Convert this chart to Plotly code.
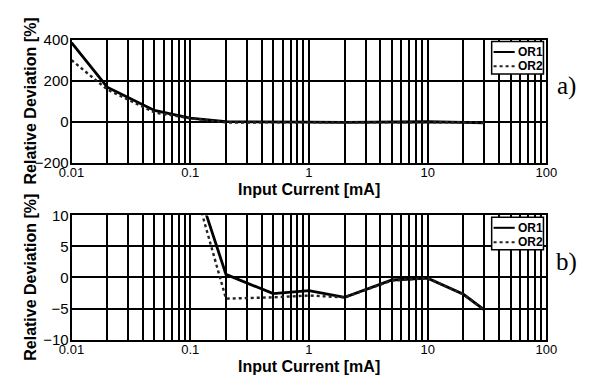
import plotly.graph_objects as go

# Measured input current sweep [mA] and relative deviation [%] of both outputs
current_ma = [0.01, 0.02, 0.05, 0.1, 0.2, 0.5, 1, 2, 5, 10, 20, 30]
or1_dev = [385, 168, 55, 18, 0.5, -2.6, -2.1, -3.2, -0.4, -0.1, -2.7, -5.2]
or2_dev = [300, 157, 45, 17, -3.4, -3.2, -2.9, -3.2, -0.5, -0.1, -2.7, -5.2]

series_names = ["OR1", "OR2"]
panel_tags = ["a)", "b)"]
y_ranges = [(-200, 400), (-10, 10)]
y_steps = [200, 5]
x_title = "Input Current [mA]"
y_title = "Relative Deviation [%]"

W, H = 589, 382
FONT = "Arial"

# panel geometry in pixels (left, right, top, bottom)
panels = [(61, 556, 32, 161), (61, 556, 216, 346)]


def px(x):
    return x / W


def py(y):
    return 1 - y / H


# log-axis grid: every 1..9 multiple of each decade, labels on decades only
grid_vals, grid_text = [], []
for dec in [0.01, 0.1, 1, 10]:
    for m in range(1, 10):
        grid_vals.append(round(dec * m, 6))
        grid_text.append(f"{dec:g}" if m == 1 else "")
grid_vals.append(100)
grid_text.append("100")

fig = go.Figure()
styles = [dict(color="black", width=2.8), dict(color="#222222", width=2.4, dash="dot")]

for i, (l, r, t, b) in enumerate(panels):
    xa = "x" if i == 0 else "x2"
    ya = "y" if i == 0 else "y2"
    for name, vals, st in zip(series_names, [or1_dev, or2_dev], styles):
        fig.add_trace(go.Scatter(x=current_ma, y=vals, mode="lines", name=name,
                                 line=st, xaxis=xa, yaxis=ya, showlegend=False,
                                 cliponaxis=True))
    axis_common = dict(showline=True, linecolor="black", linewidth=1.8, mirror=True,
                       showgrid=True, gridcolor="black", gridwidth=1.7,
                       zeroline=False, ticks="")
    xkey = "xaxis" if i == 0 else "xaxis2"
    ykey = "yaxis" if i == 0 else "yaxis2"
    fig.update_layout(**{
        xkey: dict(axis_common, type="log", range=[-2, 2],
                   domain=[px(l), px(r)], anchor=ya, ticklabelstandoff=-3,
                   tickfont=dict(family=FONT, size=13, color="black"),
                   tickmode="array", tickvals=grid_vals, ticktext=grid_text),
        ykey: dict(axis_common, range=list(y_ranges[i]), dtick=y_steps[i],
                   tick0=y_ranges[i][0], domain=[py(b), py(t)], anchor=xa,
                   tickfont=dict(family=FONT, size=15, color="black"),
                   ticklabelstandoff=-2),
    })

    # axis titles
    fig.add_annotation(x=px((l + r) / 2), y=py(b + 28), xref="paper", yref="paper",
                       text=f"<b>{x_title}</b>", showarrow=False,
                       font=dict(family=FONT, size=16, color="black"),
                       xanchor="center", yanchor="middle")
    fig.add_annotation(x=px(18), y=py((t + b) / 2), xref="paper", yref="paper",
                       text=f"<b>{y_title}</b>", showarrow=False, textangle=-90,
                       font=dict(family=FONT, size=16, color="black"),
                       xanchor="center", yanchor="middle")
    # panel tag
    fig.add_annotation(x=px(577), y=py(t + 49), xref="paper", yref="paper",
                       text=panel_tags[i], showarrow=False,
                       font=dict(family="Times New Roman", size=25, color="black"),
                       xanchor="center", yanchor="middle")

    # legend box
    lx0, lx1, ly0, ly1 = 499, 553, t + 2, t + 36
    fig.add_shape(type="rect", xref="paper", yref="paper",
                  x0=px(lx0), x1=px(lx1), y0=py(ly1), y1=py(ly0),
                  line=dict(color="black", width=1.5), fillcolor="white", layer="above")
    for j, (name, st) in enumerate(zip(series_names, styles)):
        yy = ly0 + 11 + j * 15
        fig.add_shape(type="line", xref="paper", yref="paper",
                      x0=px(lx0 + 2), x1=px(lx0 + 24), y0=py(yy), y1=py(yy),
                      line=dict(color=st["color"], width=2,
                                dash=st.get("dash", "solid")), layer="above")
        fig.add_annotation(x=px(lx0 + 25), y=py(yy), xref="paper", yref="paper",
                           text=f"<b>{name}</b>", showarrow=False,
                           font=dict(family=FONT, size=12, color="black"),
                           xanchor="left", yanchor="middle")

fig.update_layout(width=W, height=H, margin=dict(l=0, r=0, t=0, b=0),
                  paper_bgcolor="white", plot_bgcolor="white", showlegend=False)

fig.write_html("out.html")
